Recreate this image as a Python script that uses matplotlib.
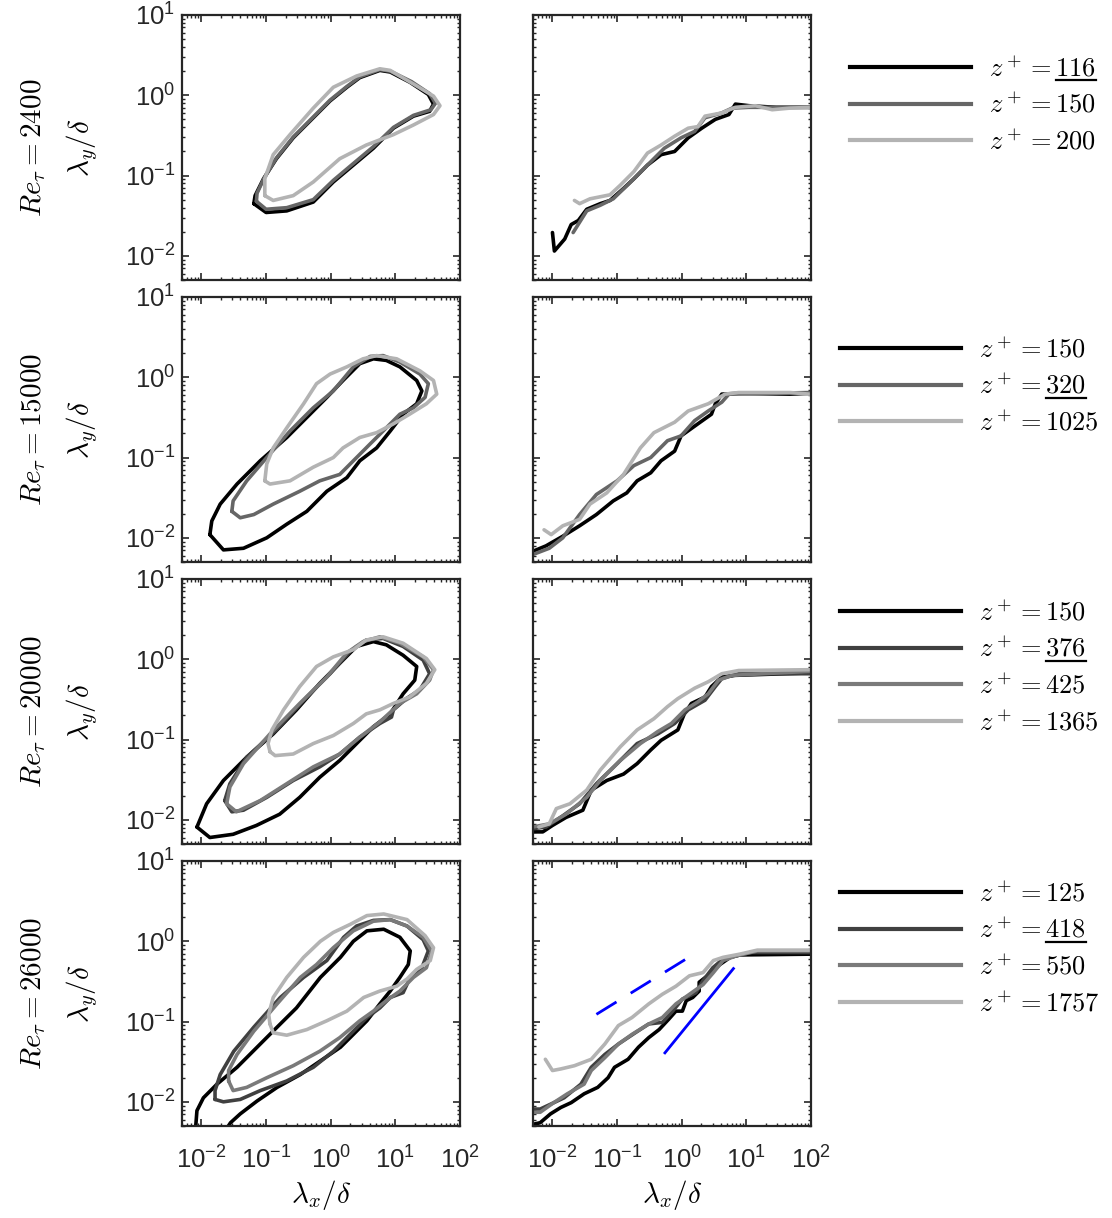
import matplotlib
matplotlib.use("Agg")
import matplotlib.pyplot as plt
from matplotlib.lines import Line2D
from matplotlib.ticker import LogLocator, FuncFormatter, NullFormatter
import numpy as np

plt.rcParams['font.family'] = ['Liberation Sans', 'DejaVu Sans']
plt.rcParams['mathtext.default'] = 'it'
plt.rcParams['axes.unicode_minus'] = False

# ---- data (log10 of lambda_x/delta, log10 of lambda_y/delta) ----
re_tau = [2400, 15000, 20000, 26000]
z_plus = [[116, 150, 200], [150, 320, 1025], [150, 376, 425, 1365], [125, 418, 550, 1757]]
underlined = [116, 320, 376, 418]

# Re_tau = 2400 contours
c2400_116 = [(-1.19, -1.35), (-1.0, -1.46), (-0.68, -1.44), (-0.27, -1.33), (0.04, -1.08), (0.35, -0.87),
             (0.66, -0.66), (0.97, -0.41), (1.28, -0.26), (1.53, -0.20), (1.59, -0.11), (1.51, 0.01),
             (1.23, 0.16), (0.92, 0.29), (0.76, 0.31), (0.45, 0.22), (0.25, 0.10), (-0.01, -0.07),
             (-0.27, -0.28), (-0.58, -0.53), (-0.84, -0.79), (-1.04, -1.04), (-1.17, -1.25)]
c2400_150 = [(-1.15, -1.32), (-1.0, -1.42), (-0.68, -1.40), (-0.27, -1.30), (0.04, -1.06), (0.35, -0.85),
             (0.66, -0.64), (0.97, -0.40), (1.28, -0.25), (1.55, -0.18), (1.62, -0.10), (1.53, 0.02),
             (1.25, 0.17), (0.92, 0.30), (0.76, 0.32), (0.45, 0.23), (0.25, 0.11), (-0.01, -0.06),
             (-0.27, -0.27), (-0.58, -0.52), (-0.84, -0.78), (-1.03, -1.03), (-1.14, -1.22)]
c2400_200 = [(-1.02, -1.25), (-0.89, -1.31), (-0.58, -1.25), (-0.27, -1.08), (0.14, -0.79), (0.55, -0.62),
             (0.97, -0.49), (1.28, -0.37), (1.59, -0.24), (1.69, -0.13), (1.59, -0.01), (1.28, 0.14),
             (0.92, 0.31), (0.76, 0.33), (0.40, 0.24), (0.04, 0.10), (-0.27, -0.16), (-0.63, -0.49),
             (-0.89, -0.74), (-1.02, -1.04)]

# Re_tau = 15000 contours
c15000_150 = [(-1.87, -1.96), (-1.66, -2.15), (-1.35, -2.13), (-0.99, -2.0), (-0.68, -1.83), (-0.37, -1.67),
              (-0.06, -1.42), (0.25, -1.25), (0.45, -1.04), (0.71, -0.88), (0.92, -0.67), (1.12, -0.46),
              (1.33, -0.33), (1.41, -0.17), (1.33, -0.04), (1.07, 0.13), (0.86, 0.21), (0.66, 0.23),
              (0.45, 0.17), (0.19, -0.04), (-0.06, -0.25), (-0.32, -0.46), (-0.68, -0.75), (-1.09, -1.04),
              (-1.45, -1.33), (-1.71, -1.58), (-1.84, -1.79)]
c15000_320 = [(-1.53, -1.67), (-1.40, -1.75), (-1.19, -1.71), (-0.89, -1.58), (-0.48, -1.42), (-0.17, -1.29),
              (0.14, -1.21), (0.40, -1.0), (0.61, -0.83), (0.81, -0.67), (1.07, -0.46), (1.28, -0.38),
              (1.46, -0.25), (1.51, -0.08), (1.38, 0.04), (1.07, 0.19), (0.81, 0.27), (0.61, 0.26),
              (0.35, 0.13), (0.04, -0.17), (-0.27, -0.38), (-0.63, -0.67), (-0.99, -1.0), (-1.30, -1.29),
              (-1.51, -1.54)]
c15000_1025 = [(-1.02, -1.29), (-0.94, -1.33), (-0.63, -1.29), (-0.27, -1.12), (0.04, -1.0), (0.19, -0.88),
               (0.45, -0.75), (0.71, -0.69), (0.97, -0.58), (1.22, -0.46), (1.48, -0.33), (1.64, -0.21),
               (1.59, -0.04), (1.38, 0.08), (1.02, 0.23), (0.71, 0.27), (0.50, 0.23), (0.25, 0.13),
               (-0.01, 0.04), (-0.22, -0.08), (-0.42, -0.33), (-0.68, -0.63), (-0.89, -0.88), (-0.99, -1.08)]

# Re_tau = 20000 contours
c20000_150 = [(-2.07, -2.09), (-1.87, -2.22), (-1.51, -2.18), (-1.15, -2.07), (-0.79, -1.93), (-0.48, -1.72),
              (-0.17, -1.47), (0.14, -1.26), (0.40, -1.05), (0.66, -0.84), (0.92, -0.68), (1.12, -0.43),
              (1.30, -0.26), (1.33, -0.09), (1.12, 0.05), (0.86, 0.18), (0.66, 0.22), (0.40, 0.16),
              (0.14, -0.05), (-0.17, -0.30), (-0.53, -0.63), (-0.89, -0.93), (-1.30, -1.22), (-1.66, -1.51),
              (-1.92, -1.80)]
c20000_376 = [(-1.64, -1.76), (-1.53, -1.90), (-1.35, -1.88), (-0.99, -1.72), (-0.58, -1.51), (-0.17, -1.34),
              (0.14, -1.18), (0.45, -0.97), (0.76, -0.80), (0.94, -0.72), (0.97, -0.63), (1.17, -0.49),
              (1.38, -0.38), (1.53, -0.18), (1.43, -0.01), (1.12, 0.16), (0.81, 0.26), (0.55, 0.24),
              (0.30, 0.10), (-0.01, -0.18), (-0.37, -0.47), (-0.84, -0.88), (-1.30, -1.22), (-1.56, -1.55)]
c20000_425 = [(-1.61, -1.80), (-1.46, -1.90), (-1.09, -1.76), (-0.68, -1.55), (-0.27, -1.34), (0.14, -1.18),
              (0.45, -0.97), (0.76, -0.78), (1.07, -0.55), (1.33, -0.43), (1.53, -0.26), (1.59, -0.13),
              (1.43, 0.03), (1.07, 0.20), (0.76, 0.28), (0.50, 0.22), (0.25, 0.08), (-0.06, -0.22),
              (-0.48, -0.55), (-0.94, -0.93), (-1.35, -1.30), (-1.56, -1.59)]
c20000_1365 = [(-0.94, -1.15), (-0.86, -1.20), (-0.58, -1.18), (-0.27, -1.05), (0.04, -0.95), (0.35, -0.80),
               (0.55, -0.68), (0.76, -0.63), (0.97, -0.55), (1.22, -0.47), (1.48, -0.30), (1.61, -0.13),
               (1.48, 0.01), (1.12, 0.20), (0.81, 0.28), (0.55, 0.24), (0.35, 0.12), (0.04, 0.03),
               (-0.22, -0.09), (-0.48, -0.34), (-0.73, -0.63), (-0.91, -0.88), (-0.97, -1.05)]

# Re_tau = 26000 contours (the z+=125 one runs off the bottom edge)
c26000_125 = [(-2.09, -2.40), (-2.09, -2.32), (-2.07, -2.11), (-1.97, -1.95), (-1.76, -1.78), (-1.45, -1.57),
              (-1.14, -1.32), (-0.83, -1.07), (-0.53, -0.83), (-0.16, -0.45), (0.15, -0.20), (0.35, 0.0),
              (0.56, 0.13), (0.82, 0.15), (1.07, 0.05), (1.23, -0.12), (1.20, -0.29), (1.07, -0.45),
              (0.92, -0.62), (0.76, -0.78), (0.56, -0.99), (0.30, -1.20), (0.15, -1.32), (-0.16, -1.49),
              (-0.47, -1.66), (-0.83, -1.82), (-1.14, -1.99), (-1.40, -2.15), (-1.55, -2.26), (-1.60, -2.32),
              (-1.62, -2.40)]
c26000_418 = [(-1.79, -1.97), (-1.66, -2.0), (-1.40, -1.97), (-1.09, -1.86), (-0.68, -1.74), (-0.27, -1.57),
              (0.04, -1.37), (0.35, -1.12), (0.56, -0.95), (0.76, -0.83), (0.92, -0.70), (1.12, -0.64),
              (1.23, -0.45), (1.41, -0.33), (1.51, -0.12), (1.43, 0.02), (1.18, 0.19), (0.92, 0.27),
              (0.66, 0.26), (0.40, 0.19), (0.20, 0.05), (-0.06, -0.24), (-0.42, -0.45), (-0.78, -0.70),
              (-1.19, -1.07), (-1.50, -1.37), (-1.71, -1.66), (-1.79, -1.86)]
c26000_550 = [(-1.58, -1.74), (-1.51, -1.86), (-1.30, -1.82), (-0.99, -1.70), (-0.58, -1.55), (-0.17, -1.37),
              (0.14, -1.20), (0.45, -0.99), (0.66, -0.87), (0.86, -0.74), (1.07, -0.62), (1.28, -0.45),
              (1.48, -0.33), (1.56, -0.12), (1.43, 0.05), (1.18, 0.19), (0.92, 0.27), (0.66, 0.25),
              (0.35, 0.13), (0.04, -0.08), (-0.22, -0.29), (-0.47, -0.45), (-0.83, -0.78), (-1.19, -1.12),
              (-1.45, -1.41), (-1.58, -1.61)]
c26000_1757 = [(-0.94, -1.03), (-0.89, -1.14), (-0.68, -1.17), (-0.37, -1.10), (-0.06, -0.99), (0.25, -0.87),
               (0.51, -0.70), (0.76, -0.62), (1.02, -0.56), (1.18, -0.47), (1.33, -0.35), (1.54, -0.24),
               (1.59, -0.08), (1.46, 0.07), (1.18, 0.27), (0.82, 0.34), (0.56, 0.32), (0.30, 0.21),
               (0.04, 0.11), (-0.16, 0.0), (-0.42, -0.20), (-0.68, -0.45), (-0.89, -0.70), (-0.96, -0.91)]

# ridge lines (right column)
r2400_116 = [(-2.0, -1.71), (-1.97, -1.94), (-1.81, -1.79), (-1.71, -1.61), (-1.60, -1.56), (-1.47, -1.42),
             (-1.26, -1.35), (-1.11, -1.31), (-0.90, -1.16), (-0.74, -1.04), (-0.53, -0.87), (-0.32, -0.74),
             (-0.11, -0.70), (0.10, -0.53), (0.31, -0.41), (0.52, -0.30), (0.73, -0.24), (0.83, -0.11),
             (1.04, -0.13), (1.46, -0.15), (1.98, -0.15)]
r2400_150 = [(-1.68, -1.71), (-1.47, -1.44), (-1.26, -1.37), (-1.06, -1.29), (-0.79, -1.08), (-0.53, -0.87),
             (-0.27, -0.66), (-0.01, -0.53), (0.20, -0.45), (0.36, -0.28), (0.62, -0.22), (0.78, -0.16),
             (1.04, -0.15), (1.98, -0.15)]
r2400_200 = [(-1.66, -1.31), (-1.58, -1.35), (-1.42, -1.29), (-1.11, -1.24), (-0.95, -1.12), (-0.74, -0.95),
             (-0.53, -0.72), (-0.32, -0.62), (-0.11, -0.51), (0.10, -0.41), (0.25, -0.39), (0.36, -0.26),
             (0.62, -0.22), (0.83, -0.15), (1.14, -0.13), (1.40, -0.18), (1.67, -0.16), (2.03, -0.15)]

r15000_150 = [(-2.31, -2.17), (-2.10, -2.10), (-1.84, -1.98), (-1.58, -1.85), (-1.32, -1.71), (-1.06, -1.54),
              (-0.85, -1.44), (-0.69, -1.29), (-0.48, -1.19), (-0.32, -1.04), (-0.11, -0.92), (-0.01, -0.73),
              (0.25, -0.58), (0.46, -0.46), (0.52, -0.33), (0.62, -0.21), (0.88, -0.20), (1.67, -0.21),
              (1.98, -0.20)]
r15000_320 = [(-2.31, -2.21), (-2.05, -2.13), (-1.84, -2.0), (-1.58, -1.71), (-1.32, -1.46), (-1.0, -1.29),
              (-0.74, -1.10), (-0.48, -1.0), (-0.22, -0.79), (-0.01, -0.73), (0.20, -0.54), (0.41, -0.42),
              (0.62, -0.31), (0.73, -0.21), (1.98, -0.19)]
r15000_1025 = [(-2.13, -1.90), (-2.02, -1.96), (-1.84, -1.85), (-1.58, -1.77), (-1.42, -1.58), (-1.16, -1.44),
               (-0.90, -1.21), (-0.64, -0.88), (-0.43, -0.69), (-0.11, -0.56), (0.10, -0.42), (0.41, -0.33),
               (0.67, -0.21), (0.88, -0.19), (1.67, -0.19), (1.98, -0.21)]

r20000_150 = [(-2.31, -2.15), (-2.15, -2.15), (-2.0, -2.07), (-1.79, -1.97), (-1.53, -1.88), (-1.40, -1.63),
              (-1.16, -1.51), (-0.90, -1.43), (-0.69, -1.30), (-0.48, -1.13), (-0.32, -1.01), (-0.06, -0.88),
              (0.04, -0.68), (0.15, -0.55), (0.36, -0.47), (0.46, -0.34), (0.62, -0.22), (0.83, -0.20),
              (1.98, -0.17)]
r20000_376 = [(-2.31, -2.11), (-2.10, -2.09), (-1.84, -1.95), (-1.58, -1.80), (-1.32, -1.55), (-1.0, -1.30),
              (-0.69, -1.05), (-0.37, -0.93), (-0.11, -0.80), (0.10, -0.63), (0.36, -0.51), (0.52, -0.34),
              (0.62, -0.24), (0.88, -0.18), (1.98, -0.18)]
r20000_425 = [(-2.31, -2.09), (-2.05, -2.05), (-1.79, -1.93), (-1.47, -1.72), (-1.26, -1.51), (-0.95, -1.26),
              (-0.64, -1.05), (-0.37, -0.90), (-0.16, -0.80), (0.05, -0.63), (0.25, -0.53), (0.41, -0.43),
              (0.57, -0.26), (0.78, -0.20), (1.98, -0.15)]
r20000_1365 = [(-2.21, -2.09), (-2.05, -2.05), (-1.94, -1.86), (-1.73, -1.80), (-1.47, -1.63), (-1.26, -1.38),
               (-0.95, -1.09), (-0.69, -0.88), (-0.43, -0.74), (-0.22, -0.59), (-0.06, -0.49), (0.20, -0.36),
               (0.41, -0.28), (0.62, -0.18), (0.88, -0.14), (1.98, -0.13)]

r26000_125 = [(-2.30, -2.28), (-2.19, -2.26), (-2.03, -2.15), (-1.87, -2.07), (-1.71, -2.01), (-1.51, -1.90),
              (-1.30, -1.82), (-1.14, -1.70), (-1.04, -1.57), (-0.83, -1.47), (-0.67, -1.32), (-0.51, -1.20),
              (-0.35, -1.10), (-0.20, -0.97), (-0.09, -0.87), (0.01, -0.87), (0.07, -0.74), (0.17, -0.70),
              (0.27, -0.62), (0.27, -0.51), (0.43, -0.41), (0.59, -0.29), (0.75, -0.20), (0.90, -0.17),
              (2.05, -0.16)]
r26000_418 = [(-2.30, -2.09), (-2.19, -2.09), (-2.03, -2.03), (-1.82, -1.95), (-1.56, -1.78), (-1.40, -1.57),
              (-1.19, -1.41), (-0.98, -1.28), (-0.72, -1.14), (-0.51, -1.03), (-0.30, -1.01), (-0.14, -0.87),
              (0.01, -0.72), (0.22, -0.64), (0.33, -0.49), (0.48, -0.33), (0.64, -0.22), (0.85, -0.18),
              (1.06, -0.14), (2.05, -0.14)]
r26000_550 = [(-2.30, -2.13), (-2.19, -2.13), (-1.98, -2.01), (-1.77, -1.90), (-1.51, -1.78), (-1.40, -1.61),
              (-1.19, -1.45), (-0.98, -1.28), (-0.77, -1.16), (-0.51, -1.03), (-0.30, -0.95), (-0.09, -0.78),
              (0.12, -0.66), (0.33, -0.54), (0.49, -0.39), (0.64, -0.24), (0.85, -0.18), (1.17, -0.12),
              (2.05, -0.12)]
r26000_1757 = [(-2.11, -1.47), (-2.00, -1.61), (-1.87, -1.59), (-1.66, -1.55), (-1.40, -1.47), (-1.19, -1.28),
               (-0.98, -1.05), (-0.77, -0.95), (-0.51, -0.78), (-0.30, -0.66), (-0.09, -0.56), (0.12, -0.43),
               (0.33, -0.39), (0.49, -0.24), (0.64, -0.20), (0.90, -0.16), (1.17, -0.11), (2.05, -0.11)]

# reference slopes drawn in the last ridge panel
slope_half_lx = [-1.32, 0.27]
slope_half_ly = [-0.91, -0.12]
slope_one_lx = [-0.26, 0.80]
slope_one_ly = [-1.39, -0.34]

contours = [[c2400_116, c2400_150, c2400_200],
            [c15000_150, c15000_320, c15000_1025],
            [c20000_150, c20000_376, c20000_425, c20000_1365],
            [c26000_125, c26000_418, c26000_550, c26000_1757]]
ridges = [[r2400_116, r2400_150, r2400_200],
          [r15000_150, r15000_320, r15000_1025],
          [r20000_150, r20000_376, r20000_425, r20000_1365],
          [r26000_125, r26000_418, r26000_550, r26000_1757]]

colors3 = ['black', '#666666', '#b3b3b3']
colors4 = ['black', '#404040', '#7a7a7a', '#b3b3b3']

W, H = 1112, 1218
fig = plt.figure(figsize=(W / 100, H / 100), dpi=100)

row_top = [15, 297, 579, 861]
row_h = 265
col_left = [182, 533]
col_w = 278
legend_left = [850, 840, 840, 840]
legend_top = [56, 337, 600, 881]

spine_col = '#262626'
label_fs = 21
tick_fmt = FuncFormatter(lambda v, pos: r'$\mathregular{10^{%d}}$' % int(round(np.log10(v))))


def style_axes(ax, ylabels, xlabels):
    ax.set_xscale('log')
    ax.set_yscale('log')
    ax.set_xlim(5e-3, 1e2)
    ax.set_ylim(5e-3, 1e1)
    for sp in ax.spines.values():
        sp.set_color(spine_col)
        sp.set_linewidth(1.6)
    ax.xaxis.set_major_locator(LogLocator(base=10, numticks=10))
    ax.yaxis.set_major_locator(LogLocator(base=10, numticks=10))
    ax.xaxis.set_minor_locator(LogLocator(base=10, subs=np.arange(2, 10), numticks=20))
    ax.yaxis.set_minor_locator(LogLocator(base=10, subs=np.arange(2, 10), numticks=20))
    ax.xaxis.set_minor_formatter(NullFormatter())
    ax.yaxis.set_minor_formatter(NullFormatter())
    ax.xaxis.set_major_formatter(tick_fmt if xlabels else NullFormatter())
    ax.yaxis.set_major_formatter(tick_fmt if ylabels else NullFormatter())
    ax.tick_params(which='both', direction='in', top=True, right=True, color=spine_col,
                   labelcolor='#262626', labelsize=18.5)
    ax.tick_params(which='major', length=5, width=1.2)
    ax.tick_params(axis='y', which='major', pad=5)
    ax.tick_params(axis='x', which='major', pad=15)
    ax.tick_params(which='minor', length=2.5, width=1.0)


def draw_curve(ax, pts, color, closed):
    lx = np.array([p[0] for p in pts])
    ly = np.array([p[1] for p in pts])
    if closed:
        lx = np.append(lx, lx[0])
        ly = np.append(ly, ly[0])
    ax.plot(10 ** lx, 10 ** ly, color=color, lw=2.6, solid_joinstyle='round', solid_capstyle='round')


legends = []
for i in range(4):
    bottom = H - row_top[i] - row_h
    cols = colors3 if len(z_plus[i]) == 3 else colors4
    last = (i == 3)

    axl = fig.add_axes([col_left[0] / W, bottom / H, col_w / W, row_h / H])
    style_axes(axl, True, last)
    closed_flags = [True] * len(contours[i])
    if i == 3:
        closed_flags[0] = False
    for pts, c, cl in zip(contours[i], cols, closed_flags):
        draw_curve(axl, pts, c, cl)
    axl.text(-0.36, 0.5, r'$\lambda_y/\delta$', transform=axl.transAxes, rotation=90,
             ha='center', va='center', fontsize=label_fs, math_fontfamily='cm')
    axl.text(-0.535, 0.5, r'$Re_\tau = %d$' % re_tau[i], transform=axl.transAxes, rotation=90,
             ha='center', va='center', fontsize=label_fs, math_fontfamily='cm')

    axr = fig.add_axes([col_left[1] / W, bottom / H, col_w / W, row_h / H])
    style_axes(axr, False, last)
    for pts, c in zip(ridges[i], cols):
        draw_curve(axr, pts, c, False)

    if last:
        axr.plot(10 ** np.array(slope_half_lx), 10 ** np.array(slope_half_ly), color='blue',
                 lw=2.0, dashes=(8.5, 6))
        axr.plot(10 ** np.array(slope_one_lx), 10 ** np.array(slope_one_ly), color='blue', lw=2.0)
        for ax in (axl, axr):
            ax.text(0.5, -0.262, r'$\lambda_x/\delta$', transform=ax.transAxes,
                    ha='center', va='center', fontsize=label_fs, math_fontfamily='cm')

    handles = [Line2D([], [], color=c, lw=3.0) for c in cols]
    labels = [r'$z^+ = %d$' % z for z in z_plus[i]]
    leg = fig.legend(handles, labels, loc='upper left',
                     bbox_to_anchor=(legend_left[i] / W, 1 - legend_top[i] / H),
                     bbox_transform=fig.transFigure, frameon=False, fontsize=19,
                     handlelength=4.6, handletextpad=0.68, labelspacing=0.43,
                     borderpad=0, borderaxespad=0)
    for t in leg.get_texts():
        t.set_math_fontfamily('cm')
    legends.append(leg)

# underline the highlighted z+ value in each legend
fig.canvas.draw()
renderer = fig.canvas.get_renderer()
for i, leg in enumerate(legends):
    for t, z in zip(leg.get_texts(), z_plus[i]):
        if z != underlined[i]:
            continue
        bb = t.get_window_extent(renderer)
        fp = t.get_fontproperties()
        _, _, d_math = renderer.get_text_width_height_descent(t.get_text(), fp, ismath=True)
        _, _, d_lp = renderer.get_text_width_height_descent('lp', fp, ismath=False)
        baseline = bb.y0 + max(d_math, d_lp)
        tmp = fig.text(0, 0, r'$%d$' % z, fontsize=19, math_fontfamily='cm')
        w = tmp.get_window_extent(renderer).width
        tmp.remove()
        y = baseline - 4
        fig.add_artist(Line2D([(bb.x1 - w) / W, bb.x1 / W], [y / H, y / H],
                              transform=fig.transFigure, color='black', lw=1.6))

fig.savefig('out.png', dpi=100)
